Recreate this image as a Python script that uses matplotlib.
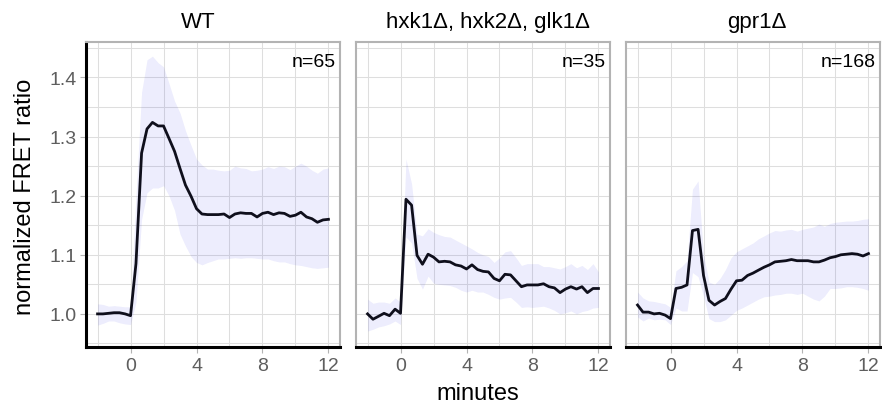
import matplotlib
matplotlib.use("Agg")
import matplotlib.pyplot as plt

plt.rcParams['font.family'] = ['Liberation Sans', 'DejaVu Sans']

# sampling times (minutes after glucose addition)
minutes = [-2.0, -1.67, -1.33, -1.0, -0.67, -0.33, 0.0,
           0.33, 0.67, 1.0, 1.33, 1.67, 2.0,
           2.33, 2.67, 3.0, 3.33, 3.67, 4.0,
           4.33, 4.67, 5.0, 5.33, 5.67, 6.0,
           6.33, 6.67, 7.0, 7.33, 7.67, 8.0,
           8.33, 8.67, 9.0, 9.33, 9.67, 10.0,
           10.33, 10.67, 11.0, 11.33, 11.67, 12.0]

# WT
wt_mean = [1.000, 1.000, 1.001, 1.002, 1.002, 1.000, 0.997,
           1.085, 1.272, 1.313, 1.324, 1.318, 1.318,
           1.297, 1.275, 1.246, 1.218, 1.199, 1.178,
           1.169, 1.168, 1.168, 1.168, 1.169, 1.163,
           1.169, 1.171, 1.170, 1.170, 1.164, 1.170,
           1.172, 1.168, 1.171, 1.170, 1.165, 1.167,
           1.172, 1.164, 1.161, 1.155, 1.159, 1.160]
wt_upper = [1.017, 1.016, 1.013, 1.014, 1.013, 1.012, 1.012,
            1.200, 1.375, 1.430, 1.436, 1.425, 1.418,
            1.390, 1.360, 1.340, 1.310, 1.285, 1.262,
            1.252, 1.245, 1.245, 1.243, 1.242, 1.243,
            1.250, 1.247, 1.246, 1.242, 1.243, 1.245,
            1.249, 1.246, 1.250, 1.249, 1.244, 1.250,
            1.255, 1.250, 1.243, 1.238, 1.245, 1.247]
wt_lower = [0.981, 0.984, 0.988, 0.988, 0.985, 0.983, 0.982,
            1.020, 1.160, 1.205, 1.213, 1.213, 1.217,
            1.200, 1.175, 1.135, 1.115, 1.097, 1.087,
            1.083, 1.087, 1.090, 1.093, 1.093, 1.094,
            1.095, 1.094, 1.095, 1.095, 1.094, 1.093,
            1.093, 1.090, 1.088, 1.088, 1.085, 1.083,
            1.082, 1.080, 1.078, 1.077, 1.078, 1.079]

# hxk1, hxk2, glk1 triple deletion
hxk_mean = [1.000, 0.991, 0.996, 1.001, 0.997, 1.008, 1.001,
            1.194, 1.184, 1.099, 1.084, 1.101, 1.096,
            1.088, 1.089, 1.088, 1.083, 1.081, 1.076,
            1.083, 1.075, 1.072, 1.071, 1.060, 1.056,
            1.067, 1.066, 1.056, 1.046, 1.049, 1.049,
            1.049, 1.051, 1.046, 1.044, 1.036, 1.042,
            1.046, 1.042, 1.046, 1.036, 1.043, 1.043]
hxk_upper = [1.025, 1.018, 1.020, 1.020, 1.018, 1.027, 1.020,
             1.262, 1.220, 1.135, 1.132, 1.144, 1.138,
             1.134, 1.131, 1.130, 1.125, 1.120, 1.115,
             1.110, 1.104, 1.100, 1.097, 1.087, 1.095,
             1.105, 1.107, 1.095, 1.082, 1.085, 1.085,
             1.085, 1.080, 1.080, 1.078, 1.076, 1.080,
             1.085, 1.078, 1.082, 1.075, 1.085, 1.071]
hxk_lower = [0.971, 0.974, 0.978, 0.980, 0.983, 0.988, 0.982,
             1.130, 1.120, 1.060, 1.042, 1.064, 1.052,
             1.050, 1.049, 1.048, 1.045, 1.040, 1.037,
             1.040, 1.037, 1.037, 1.033, 1.028, 1.025,
             1.027, 1.028, 1.020, 1.011, 1.012, 1.011,
             1.012, 1.013, 1.010, 1.006, 1.000, 1.002,
             1.005, 1.000, 1.004, 1.006, 1.010, 1.011]

# gpr1 deletion
gpr_mean = [1.015, 1.003, 1.003, 1.000, 1.001, 0.998, 0.992,
            1.043, 1.045, 1.049, 1.141, 1.143, 1.065,
            1.023, 1.015, 1.021, 1.026, 1.042, 1.056,
            1.057, 1.065, 1.069, 1.074, 1.079, 1.083,
            1.088, 1.089, 1.090, 1.092, 1.090, 1.090,
            1.090, 1.088, 1.088, 1.091, 1.095, 1.097,
            1.100, 1.101, 1.102, 1.101, 1.098, 1.102]
gpr_upper = [1.037, 1.027, 1.022, 1.021, 1.019, 1.017, 1.011,
             1.073, 1.080, 1.090, 1.211, 1.225, 1.100,
             1.054, 1.050, 1.060, 1.075, 1.095, 1.105,
             1.110, 1.115, 1.120, 1.127, 1.132, 1.137,
             1.141, 1.140, 1.142, 1.143, 1.140, 1.143,
             1.145, 1.147, 1.152, 1.148, 1.153, 1.155,
             1.156, 1.157, 1.157, 1.158, 1.160, 1.161]
gpr_lower = [0.995, 0.988, 0.993, 0.990, 0.991, 0.990, 0.982,
             1.010, 1.005, 1.005, 1.070, 1.063, 1.030,
             0.992, 0.987, 0.987, 0.990, 0.998, 1.006,
             1.010, 1.015, 1.020, 1.025, 1.029, 1.030,
             1.032, 1.033, 1.035, 1.035, 1.033, 1.035,
             1.030, 1.025, 1.022, 1.030, 1.043, 1.043,
             1.044, 1.046, 1.046, 1.045, 1.043, 1.040]

strains = ["WT", "hxk1\u0394, hxk2\u0394, glk1\u0394", "gpr1\u0394"]
cell_counts = [65, 35, 168]
means = [wt_mean, hxk_mean, gpr_mean]
uppers = [wt_upper, hxk_upper, gpr_upper]
lowers = [wt_lower, hxk_lower, gpr_lower]

x_major = [0, 4, 8, 12]
x_minor = [-2, 2, 6, 10]
y_major = [1.0, 1.1, 1.2, 1.3, 1.4]
y_minor = [0.95, 1.05, 1.15, 1.25, 1.35, 1.45]

W, H = 882, 414
fig = plt.figure(figsize=(W / 100, H / 100), dpi=100)

panel_left = [86, 356, 626]
panel_w = 254
panel_top, panel_bottom = 43, 348
title_x = [198, 488, 757]

for i in range(3):
    ax = fig.add_axes([panel_left[i] / W, 1 - panel_bottom / H,
                       panel_w / W, (panel_bottom - panel_top) / H])

    ax.fill_between(minutes, lowers[i], uppers[i], color="#1a1ae6",
                    alpha=0.08, linewidth=0, zorder=2)
    ax.plot(minutes, means[i], color="#0f0f1c", lw=2.0, zorder=3)

    ax.set_xlim(-2.7, 12.7)
    ax.set_ylim(0.944, 1.46)
    ax.set_xticks(x_major)
    ax.set_xticks(x_minor, minor=True)
    ax.set_yticks(y_major)
    ax.set_yticks(y_minor, minor=True)
    ax.set_yticklabels(["%.1f" % v for v in y_major])
    ax.grid(which="both", color="#dedede", lw=0.75, zorder=0)
    ax.set_axisbelow(True)

    for side in ["top", "right", "left"]:
        ax.spines[side].set_color("#b3b3b3")
        ax.spines[side].set_linewidth(1.5)
    ax.spines["bottom"].set_color("black")
    ax.spines["bottom"].set_linewidth(2.2)

    ax.tick_params(which="major", length=4, width=0.8, color="#b3b3b3",
                   labelsize=14, labelcolor="#5e5e5e", pad=3)
    ax.tick_params(which="minor", length=0)

    if i == 0:
        ax.spines["left"].set_color("black")
        ax.spines["left"].set_linewidth(2.2)
    else:
        ax.tick_params(axis="y", which="both", left=False, labelleft=False)

    ax.text(0.984, 0.922, "n=%d" % cell_counts[i], transform=ax.transAxes,
            ha="right", va="baseline", size=14, color="black")

    fig.text(title_x[i] / W, 1 - 28 / H, strains[i], ha="center",
             va="baseline", size=16, color="black")

fig.text(25 / W, 1 - 197 / H, "normalized FRET ratio", rotation=90,
         ha="center", va="center", size=17)
fig.text(478 / W, 1 - 400 / H, "minutes", ha="center", va="baseline", size=17)

fig.savefig("out.png", dpi=100)
